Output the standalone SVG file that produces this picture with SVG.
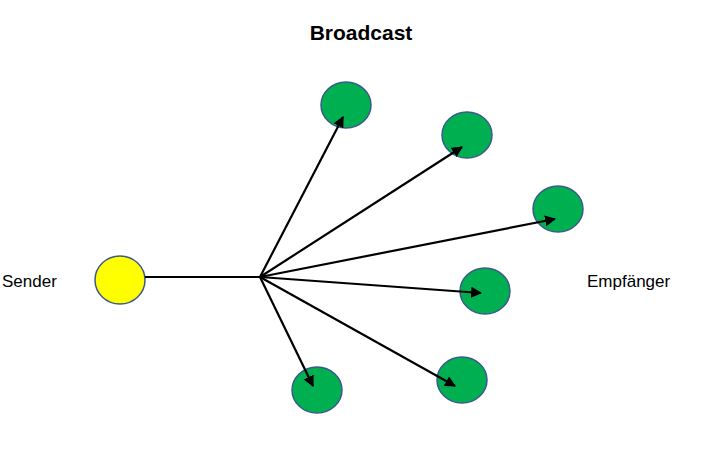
<svg xmlns="http://www.w3.org/2000/svg" width="701" height="452" viewBox="0 0 701 452">
<style>
.n{stroke:#3A5A8C;stroke-width:1.5}
.g{fill:#00B050}
.t{font-family:"Liberation Sans",Arial,sans-serif;font-size:17px;fill:#000}
.c{stroke:#000;stroke-width:2.2;fill:none}
</style>
<defs><marker id="a" viewBox="0 0 10 10" refX="9" refY="5" markerWidth="5" markerHeight="5" orient="auto"><path d="M0,0L10,5L0,10z" fill="#000"/></marker></defs>
<rect width="701" height="452" fill="#fff"/>
<text x="361" y="40" text-anchor="middle" font-family="Liberation Sans,Arial,sans-serif" font-weight="bold" font-size="21">Broadcast</text>
<text class="t" x="2" y="287">Sender</text>
<text class="t" x="587" y="287">Empfänger</text>
<g id="sender"><ellipse class="n" cx="120" cy="280" rx="25" ry="24" fill="#FFFF00"/></g>
<g id="r1"><ellipse class="n g" cx="346" cy="105" rx="25" ry="23"/></g>
<g id="r2"><ellipse class="n g" cx="467" cy="135" rx="25" ry="23"/></g>
<g id="r3"><ellipse class="n g" cx="558" cy="209" rx="25" ry="23"/></g>
<g id="r4"><ellipse class="n g" cx="485" cy="291" rx="25" ry="23"/></g>
<g id="r5"><ellipse class="n g" cx="462" cy="380" rx="25" ry="23"/></g>
<g id="r6"><ellipse class="n g" cx="317" cy="390" rx="25" ry="23"/></g>
<g id="connectors">
<line class="c" x1="145" y1="277" x2="260" y2="277"/>
<line class="c" x1="260" y1="277" x2="343" y2="117" marker-end="url(#a)"/>
<line class="c" x1="260" y1="277" x2="462" y2="147" marker-end="url(#a)"/>
<line class="c" x1="260" y1="277" x2="555" y2="219" marker-end="url(#a)"/>
<line class="c" x1="260" y1="277" x2="481" y2="293" marker-end="url(#a)"/>
<line class="c" x1="260" y1="277" x2="455" y2="386" marker-end="url(#a)"/>
<line class="c" x1="260" y1="277" x2="313" y2="386" marker-end="url(#a)"/>
</g>
</svg>
